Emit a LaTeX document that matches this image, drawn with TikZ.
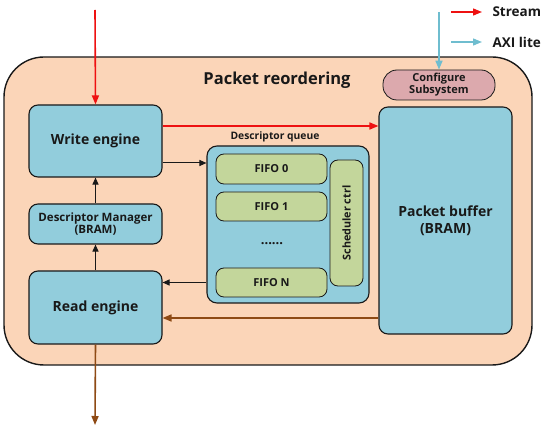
\documentclass[tikz,border=0pt]{standalone}
\usepackage{fontspec}
\setmainfont{Open Sans}
\usepackage{tikz}
\usetikzlibrary{arrows.meta,positioning,calc}
\definecolor{peach}{HTML}{FBD5B8}
\definecolor{aqua}{HTML}{92CDDC}
\definecolor{olive}{HTML}{C3D69B}
\definecolor{rose}{HTML}{DCA9AD}
\definecolor{strm}{HTML}{EE1111}
\definecolor{axic}{HTML}{6FBDCF}
\definecolor{outc}{HTML}{8E4A14}
\tikzset{
  pr/.style={rectangle,draw,line width=1.4pt,rounded corners=40pt,fill=peach,minimum width=528pt,minimum height=308pt},
  eng/.style={rectangle,draw,line width=1.1pt,rounded corners=9pt,fill=aqua,minimum width=133pt,align=center,font=\bfseries\fontsize{14}{17}\selectfont},
  fifo/.style={rectangle,draw,line width=0.8pt,rounded corners=8pt,fill=olive,minimum width=111pt,minimum height=29pt,align=center,font=\bfseries\fontsize{11}{13}\selectfont},
  arr/.style={-{Triangle[length=7pt,width=6pt]},line width=1pt},
  stream/.style={arr,strm,line width=1.6pt,-{Triangle[length=9pt,width=7pt]}},
  axi/.style={arr,axic,line width=1.6pt,-{Triangle[length=9pt,width=7pt]}},
  outarr/.style={arr,outc,line width=1.6pt,-{Triangle[length=9pt,width=7pt]}},
  lgd/.style={anchor=west,font=\bfseries\fontsize{13.5}{16}\selectfont},
}
\begin{document}
\begin{tikzpicture}[x=1pt,y=-1pt,color=black!90]
  \useasboundingbox (0,0) rectangle (550,433);
  % outer block
  \node[pr] (prb) at (268,211) {};
  \node[font=\bfseries\fontsize{16.5}{20}\selectfont] (ttl) at (277,80) {Packet reordering};
  % engines
  \node[eng,minimum height=72pt] (wr) at (95.5,141) {Write engine};
  \node[eng,minimum height=40pt,inner sep=1pt,font=\bfseries\fontsize{11.5}{12.5}\selectfont] (dm) at (95.5,224) {Descriptor Manager\\(BRAM)};
  \node[eng,minimum height=73pt] (rd) at (95.5,307.5) {Read engine};
  % descriptor queue
  \node[rectangle,draw,line width=1.1pt,rounded corners=10pt,fill=aqua,minimum width=162pt,minimum height=157pt] (dq) at (288,224.5) {};
  \node[above=0pt of dq.north,font=\bfseries\fontsize{10.3}{12}\selectfont,xshift=-13pt] (dql) {Descriptor queue};
  \node[fifo,minimum height=30pt] (f0) at (271.5,169) {FIFO 0};
  \node[fifo] (f1) at (271.5,206.5) {FIFO 1};
  \node[font=\bfseries\fontsize{13}{15}\selectfont] (dots) at (272,244) {......};
  \node[fifo] (fn) at (271.5,282.5) {FIFO N};
  \node[fifo,minimum width=126pt,minimum height=33pt,rotate=90,font=\bfseries\fontsize{10.8}{12}\selectfont] (sch) at (346.5,223) {Scheduler ctrl};
  % packet buffer and config
  \node[eng,minimum height=227pt] (pb) at (445.5,220.5) {Packet buffer\\(BRAM)};
  \node[rectangle,draw,line width=0.8pt,rounded corners=14pt,fill=rose,minimum width=112pt,minimum height=30pt,inner sep=1pt,align=center,font=\bfseries\fontsize{11}{12}\selectfont] (cfg) at (439,85) {Configure\\Subsystem};
  % connectors
  \coordinate (sin) at (95,10);
  \coordinate (sout) at (95,425);
  \coordinate (ain) at (439,12);
  \draw[stream] (sin) -- (wr.north);
  \draw[stream] ([yshift=15pt]wr.east) -- ([yshift=15pt]wr.east -| pb.west);
  \draw[arr] ([yshift=-22pt]wr.east) -- ([yshift=-22pt]wr.east -| dq.west);
  \draw[arr] (dm.north) -- (wr.south);
  \draw[arr] (rd.north) -- (dm.south);
  \draw[arr] (dq.west |- fn) -- (rd.east |- fn);
  \draw[outarr] ([yshift=-10.5pt]rd.east -| pb.west) -- ([yshift=-10.5pt]rd.east);
  \draw[outarr] (rd.south) -- (sout);
  \draw[axi] (ain) -- (cfg.north);
  % legend
  \coordinate (ls1) at (451,12); \coordinate (ls2) at (482,12);
  \coordinate (la1) at (451,42); \coordinate (la2) at (482,42);
  \draw[stream,line width=1.3pt] (ls1) -- (ls2);
  \draw[axi,line width=1.3pt] (la1) -- (la2);
  \node[lgd] (lgs) at (489,12) {Stream};
  \node[lgd] (lga) at (489,42) {AXI lite};
\end{tikzpicture}
\end{document}
